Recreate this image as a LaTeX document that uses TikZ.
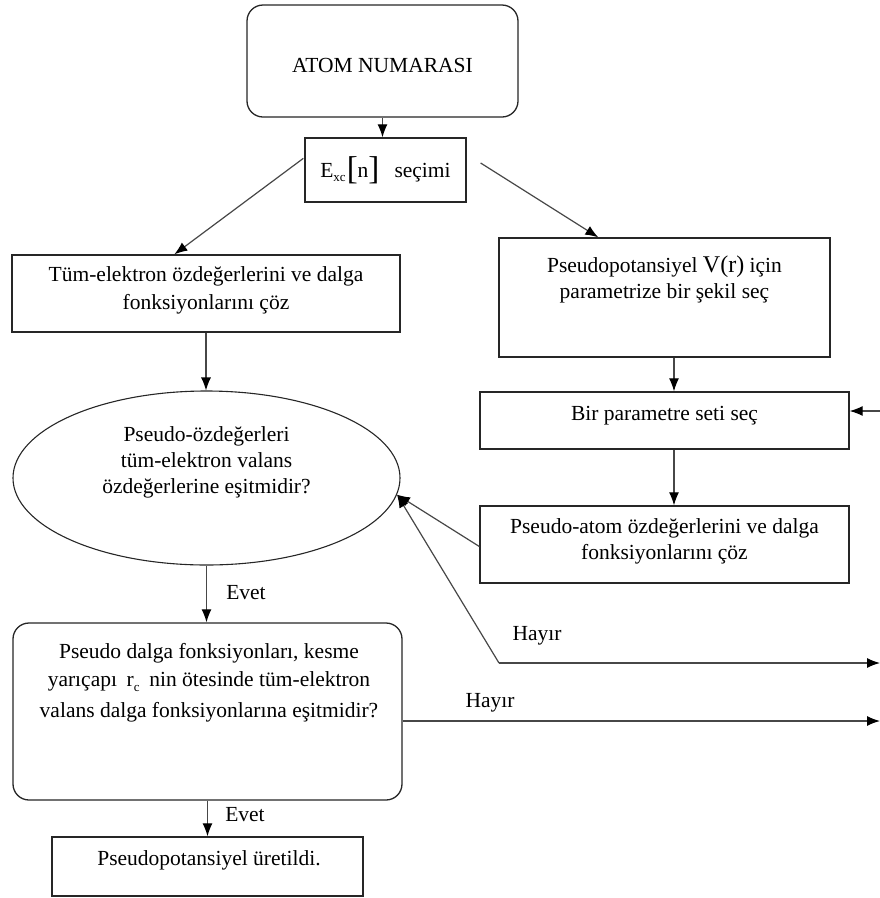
\documentclass[tikz,border=0pt]{standalone}
\usepackage{fontspec}
\setmainfont{Liberation Serif}
\usetikzlibrary{arrows.meta,shapes.geometric,calc}

% small lowered index and tall brackets for the formula texts
\newcommand{\lowidx}[1]{\raisebox{-0.45ex}{\fontsize{13}{13}\selectfont #1}}
\newcommand{\tallbr}[1]{\raisebox{-0.18ex}{\fontsize{33}{33}\selectfont #1}}

\begin{document}
\begin{tikzpicture}[x=1pt,y=-1pt,
  font=\fontsize{21.5}{26}\selectfont,
  box/.style={draw=black!85, line width=1.3pt, inner sep=0pt, align=center, fill=white},
  roundbox/.style={box, rounded corners=16pt},
  oval/.style={draw=black!85, line width=1.1pt, ellipse, inner sep=0pt},
  flow/.style={draw=black!72, line width=1.2pt,
    -{Latex[length=13pt,width=10pt,color=black]}},
  txt/.style={inner sep=0pt, align=center}
]
\useasboundingbox (0,0) rectangle (880,898);

% ---- boxes ----
\node[roundbox, minimum width=271, minimum height=112] (atom) at (382.5,61) {};
\node[txt] (atomtxt) at (382.5,65) {ATOM NUMARASI};

\node[box, minimum width=161, minimum height=64] (exc) at (385.5,170)
  {E\lowidx{xc}\kern1pt\tallbr{[}n\tallbr{]}\hspace{0.7em}seçimi};

\node[box, minimum width=388, minimum height=77] (tum) at (206,293.5) {};
\node[txt] (tumtxt) at (206,290) {Tüm-elektron özdeğerlerini ve dalga\\[2pt] fonksiyonlarını çöz};

\node[box, minimum width=331, minimum height=119] (pp) at (664.5,297.5) {};
\node[txt] (pptxt) at (664.5,279)
  {Pseudopotansiyel {\fontsize{24}{26}\selectfont V(r)} için\\ parametrize bir şekil seç};

\node[box, minimum width=369, minimum height=57] (bir) at (664.5,420.5) {};
\node[txt] (birtxt) at (664.5,416) {Bir parametre seti seç};

\node[box, minimum width=369, minimum height=77] (patom) at (664.5,544.5) {};
\node[txt] (patomtxt) at (664.5,541) {Pseudo-atom özdeğerlerini ve dalga\\ fonksiyonlarını çöz};

\node[oval, minimum width=387, minimum height=174] (ell) at (206.5,478) {};
\node[txt] (elltxt) at (206.5,462) {Pseudo-özdeğerleri\\ tüm-elektron valans\\ özdeğerlerine eşitmidir?};

\node[roundbox, minimum width=389, minimum height=177] (rb) at (207.5,711.5) {};
\node[txt] (rbtxt) at (209,683)
  {Pseudo dalga fonksiyonları, kesme\\[2pt]
   yarıçapı\hspace{0.45em}r\lowidx{c}\hspace{0.45em}nin ötesinde tüm-elektron\\[5pt]
   valans dalga fonksiyonlarına eşitmidir?};

\node[box, minimum width=311, minimum height=59] (fin) at (207.5,866.5) {};
\node[txt] (fintxt) at (209,860) {Pseudopotansiyel üretildi.};

% ---- free ends of connectors ----
\coordinate (excgap) at ($(exc.east)+(14,-7)$);
\coordinate (feedin) at (880,411);
\coordinate (hturn) at (499,663);
\coordinate (hout) at (880,663);
\coordinate (rbout) at (880,721);

% ---- connectors ----
\draw[flow] (atom.south) -- (atom.south |- exc.north);
\draw[flow] ($(exc.north west)+(-1,21)$) -- ($(tum.north west)+(163,0)$);
\draw[flow] (excgap) -- ($(pp.north west)+(100,0)$);
\draw[flow] (tum.south) -- (tum.south |- ell.north);
\draw[flow] ([xshift=9.5pt]pp.south) -- ([xshift=9.5pt]bir.north);
\draw[flow] ([xshift=9.5pt]bir.south) -- ([xshift=9.5pt]patom.north);
\draw[flow] (feedin) -- (feedin -| bir.east);
\draw[flow] ($(patom.west)+(0,2)$) -- (ell.-5);
\draw[flow] (hturn) -- (ell.-5);
\draw[flow] (hturn) -- (hout);
\draw[flow] (ell.south) -- (ell.south |- rb.north);
\draw[flow] (rbout -| rb.east) -- (rbout);
\draw[flow] (rb.south) -- (rb.south |- fin.north);

% ---- branch labels ----
\node[txt] (evet1) at (246,593) {Evet};
\node[txt] (evet2) at (245,815) {Evet};
\node[txt] (hayir1) at (537,636) {Hayır};
\node[txt] (hayir2) at (490,703) {Hayır};
\end{tikzpicture}
\end{document}
